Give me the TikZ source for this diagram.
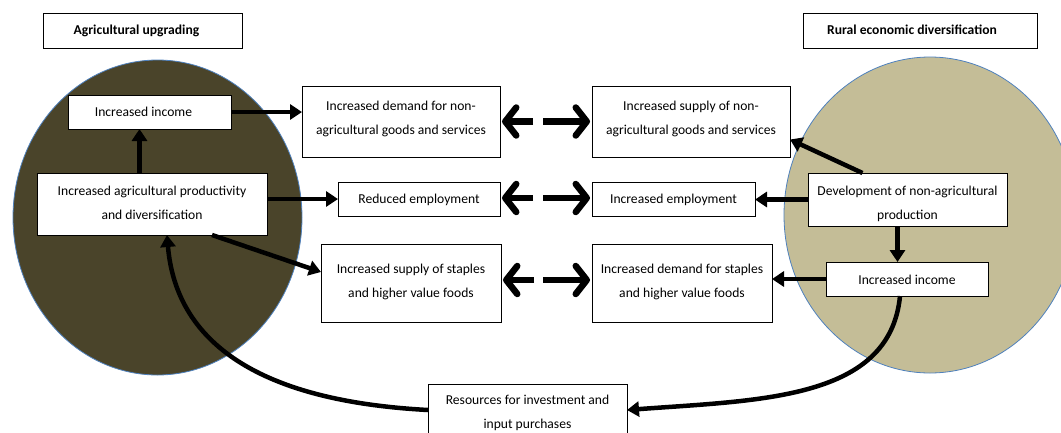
\documentclass[tikz,border=0pt]{standalone}
\usepackage{fontspec}
\setmainfont{Carlito}
\usetikzlibrary{arrows.meta,calc}
\definecolor{darkolive}{HTML}{4A442A}
\definecolor{tanfill}{HTML}{C4BD97}
\definecolor{rimblue}{HTML}{4F81BD}
\newcommand\bxt[4]{\begin{minipage}[t][#2][t]{#1}\centering\rule{0pt}{#3}#4\end{minipage}}
\tikzset{
  box/.style={draw, line width=0.9pt, fill=white, inner sep=0pt, outer sep=0pt, anchor=north west,
    font=\fontsize{13.6}{24}\selectfont},
  titlebox/.style={box, font=\fontsize{13.6}{24}\selectfont\bfseries},
  arr/.style={line width=4.5pt, -{Triangle[length=12pt,width=15pt]}},
  dbl/.style={line width=6.5pt, -{Straight Barb[length=11pt,width=28pt,round]}},
  rim/.style={draw=rimblue, line width=0.8pt}
}
\begin{document}
\begin{tikzpicture}[x=1pt,y=-1pt]
\useasboundingbox (0,0) rectangle (1061,432);
\clip (0,0) rectangle (1061,432);
% circles
\filldraw[rim, fill=darkolive] (157.5,217.5) ellipse [x radius=144.5, y radius=157.5];
\filldraw[rim, fill=tanfill] (930,215) ellipse [x radius=146, y radius=158];
% titles
\node[titlebox] (t1) at (43,13) {\bxt{199pt}{35pt}{21pt}{Agricultural upgrading\hspace*{12pt}}};
\node[titlebox] (t2) at (803,13) {\bxt{234pt}{35pt}{21pt}{Rural economic diversification\hspace*{16pt}}};
% left boxes
\node[box] (linc) at (68,95) {\bxt{163pt}{34pt}{21pt}{Increased income\hspace*{12pt}}};
\node[box] (prod) at (37,173) {\bxt{230pt}{62pt}{22pt}{Increased agricultural productivity\\and diversification}};
% middle left
\node[box] (dem) at (302,86) {\bxt{198pt}{71pt}{24pt}{Increased demand for non-\\agricultural goods and services}};
\node[box] (red) at (338,182) {\bxt{162pt}{34pt}{21pt}{Reduced employment}};
\node[box] (sst) at (321,244) {\bxt{180pt}{78pt}{29pt}{Increased supply of staples\\and higher value foods}};
% middle right
\node[box] (snon) at (592,86) {\bxt{198pt}{71pt}{24pt}{Increased supply of non-\\agricultural goods and services}};
\node[box] (iemp) at (592,182) {\bxt{163pt}{34pt}{21pt}{Increased employment}};
\node[box] (dst) at (592,244) {\bxt{180pt}{78pt}{29pt}{Increased demand for staples\\and higher value foods}};
% right boxes
\node[box] (dev) at (808,173) {\bxt{199pt}{53pt}{22pt}{Development of non-agricultural\\production}};
\node[box] (rinc) at (826,262) {\bxt{162pt}{34pt}{22pt}{Increased income}};
% bottom
\node[box] (res) at (428,384) {\bxt{199pt}{60pt}{20pt}{Resources for investment and\\input purchases}};
% connectors left
\draw[arr] ([xshift=-10pt]linc.south |- prod.north) -- ([xshift=-10pt]linc.south);
\draw[arr] (linc.east) -- (linc.east -| dem.west);
\draw[arr] (prod.east |- red.west) -- (red.west);
\draw[arr] ([xshift=60pt]prod.south) -- ([yshift=11pt]sst.west);
% connectors right
\draw[arr] ([xshift=-45pt]dev.north) -- ([yshift=-18pt]snon.east);
\draw[arr] (dev.west) -- (dev.west -| iemp.east);
\draw[arr] ([xshift=-10pt]dev.south) -- ([xshift=-10pt]dev.south |- rinc.north);
\draw[arr] (rinc.west) -- (rinc.west -| dst.east);
% double arrows
\foreach \l/\r/\s in {dem/snon/0pt, red/iemp/1pt, sst/dst/3pt}{
  \draw[dbl] ([xshift=33pt,yshift=\s]\l.east) -- ([xshift=2pt,yshift=\s]\l.east);
  \draw[dbl] ([xshift=-49pt,yshift=\s]\r.west) -- ([xshift=-2pt,yshift=\s]\r.west);
}
% curved loop
\draw[arr] ([xshift=-7pt]rinc.south) .. controls (890,400) and (760,400) .. ([yshift=4pt]res.east);
\draw[arr] ([yshift=4pt]res.west) .. controls (240,400) and (175,330) .. ([xshift=15pt]prod.south);
\end{tikzpicture}
\end{document}
